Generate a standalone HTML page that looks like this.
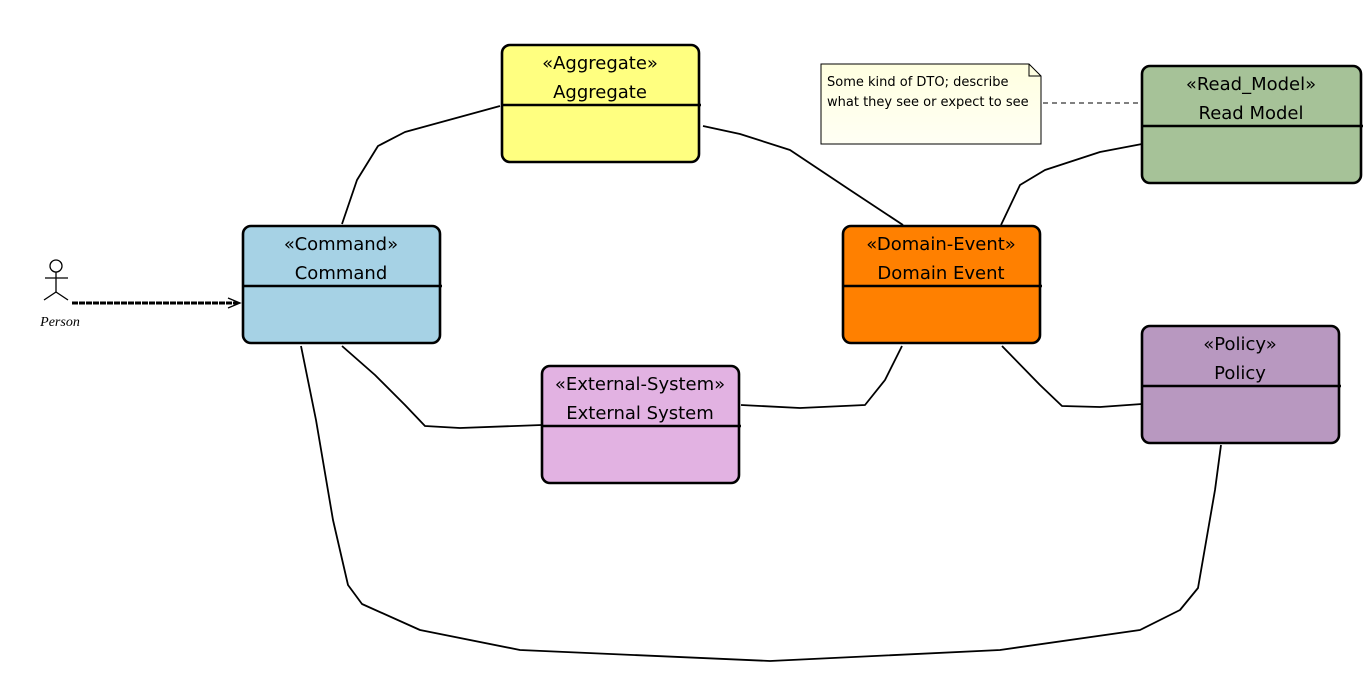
<!DOCTYPE html>
<html><head><meta charset="utf-8"><style>
html,body{margin:0;padding:0;background:#fff;width:1372px;height:687px;overflow:hidden}
svg text{font-family:"DejaVu Sans","Liberation Sans",sans-serif}
</style></head><body>
<svg width="1372" height="687" viewBox="0 0 1372 687" xmlns="http://www.w3.org/2000/svg">
<defs><linearGradient id="ng" x1="0" y1="0" x2="0" y2="1"><stop offset="0" stop-color="#ffffe0"/><stop offset="1" stop-color="#fffff4"/></linearGradient></defs>
<g fill="none" stroke="#000" stroke-width="1.8" stroke-linejoin="round">
<polyline points="342,224 357,180 378,146 405,132 500,106"/>
<polyline points="703,126 740,134 790,150 850,190 903,225"/>
<polyline points="1001,225 1020,185 1045,170 1100,152 1142,144"/>
<polyline points="342,346 375,375 405,405 425,426 460,428 542,425"/>
<polyline points="741,405 800,408 865,405 885,380 902,346"/>
<polyline points="1002,346 1040,385 1062,406 1100,407 1142,404"/>
<polyline points="301,346 316,420 333,520 348,585 362,604 420,630 520,650 770,661 1000,650 1140,630 1180,610 1198,588 1215,490 1221,445"/>
</g>
<path d="M72,303 L238,303" stroke="#000" stroke-width="3" stroke-dasharray="6,1"/>
<path d="M228,298 L240,303 L228,308" fill="none" stroke="#000" stroke-width="1.3"/>
<line x1="1043" y1="103" x2="1140" y2="103" stroke="#000" stroke-dasharray="5,4"/>
<g fill="none" stroke="#000" stroke-width="1.3">
<circle cx="56" cy="266" r="6"/>
<line x1="56" y1="272" x2="56" y2="292"/>
<line x1="45" y1="278" x2="68" y2="278"/>
<line x1="44" y1="300" x2="56" y2="292"/>
<line x1="56" y1="292" x2="68" y2="300"/>
</g>
<text x="60" y="326" font-size="14" text-anchor="middle" font-style="italic" style="font-family:'Liberation Serif',serif">Person</text>
<path d="M821,64 L1029,64 L1041,76 L1041,144 L821,144 Z" fill="url(#ng)" stroke="#000" stroke-width="1"/>
<path d="M1029,64 L1029,76 L1041,76" fill="none" stroke="#000" stroke-width="1"/>
<text x="827" y="86" font-size="13">Some kind of DTO; describe</text>
<text x="827" y="106" font-size="13">what they see or expect to see</text>
<g stroke="#000" stroke-width="2.6">
<rect x="502" y="45" width="197" height="117" rx="8" fill="#ffff80"/>
<line x1="502" y1="105" x2="701" y2="105"/>
<rect x="243" y="226" width="197" height="117" rx="8" fill="#a6d2e5"/>
<line x1="243" y1="286" x2="442" y2="286"/>
<rect x="843" y="226" width="197" height="117" rx="8" fill="#ff8000"/>
<line x1="843" y1="286" x2="1042" y2="286"/>
<rect x="1142" y="66" width="219" height="117" rx="8" fill="#a6c298"/>
<line x1="1142" y1="126" x2="1363" y2="126"/>
<rect x="1142" y="326" width="197" height="117" rx="8" fill="#b898c0"/>
<line x1="1142" y1="386" x2="1341" y2="386"/>
<rect x="542" y="366" width="197" height="117" rx="8" fill="#e2b2e2"/>
<line x1="542" y1="426" x2="741" y2="426"/>
</g>
<g font-size="18" text-anchor="middle" fill="#000">
<text x="600" y="69">«Aggregate»</text><text x="600" y="98">Aggregate</text>
<text x="341" y="250">«Command»</text><text x="341" y="279">Command</text>
<text x="941" y="250">«Domain-Event»</text><text x="941" y="279">Domain Event</text>
<text x="1251" y="90">«Read_Model»</text><text x="1251" y="119">Read Model</text>
<text x="1240" y="350">«Policy»</text><text x="1240" y="379">Policy</text>
<text x="640" y="390">«External-System»</text><text x="640" y="419">External System</text>
</g>
</svg>
</body></html>
